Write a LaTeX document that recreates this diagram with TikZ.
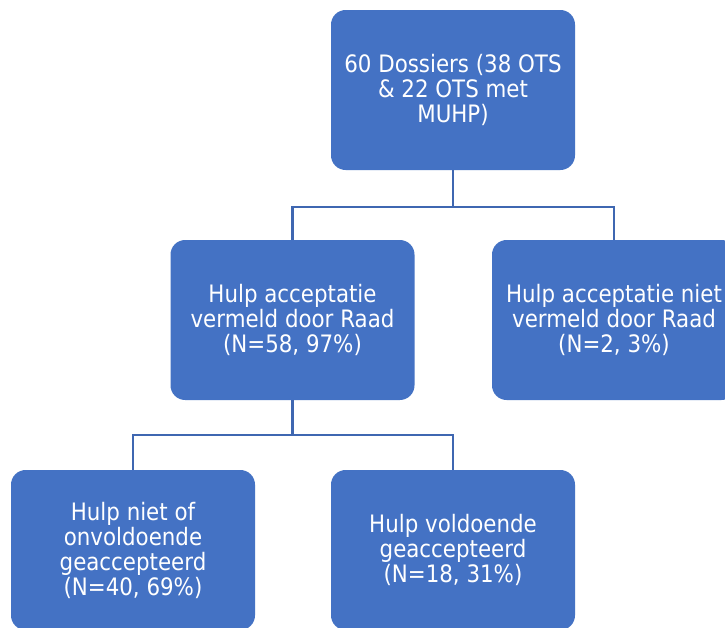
\documentclass[tikz,border=0pt]{standalone}
\usepackage{fontspec}
\setmainfont{DejaVu Sans}[FakeStretch=0.89]
\definecolor{boxblue}{HTML}{4472C4}
\definecolor{lineblue}{HTML}{3F67B1}
\tikzset{
  box/.style={fill=boxblue, draw=none, rounded corners=11pt, minimum width=183pt, minimum height=120pt,
    text=white, align=center, font=\fontsize{18}{18.75}\selectfont, inner sep=0pt},
  link/.style={draw=lineblue, line width=1.9pt}
}
\begin{document}
\begin{tikzpicture}[x=0.75pt,y=-0.75pt]
\useasboundingbox (0,0) rectangle (725,628);
\clip (0,0) rectangle (725,628);
\fill[white] (0,0) rectangle (725,628);
\node[box] (top) at (453,90) {60 Dossiers (38 OTS\\ \& 22 OTS met\\ MUHP)};
\node[box] (ml) at (292.5,320) {Hulp acceptatie\\ vermeld door Raad\\ (N=58, 97\%)};
\node[box] (mr) at (614,320) {Hulp acceptatie niet\\ vermeld door Raad\\ (N=2, 3\%)};
\node[box] (bl) at (133,550) {Hulp niet of\\ onvoldoende\\ geaccepteerd\\ (N=40, 69\%)};
\node[box] (bm) at (453,550) {Hulp voldoende\\ geaccepteerd\\ (N=18, 31\%)};
\coordinate (j1) at (453,207);
\coordinate (j2) at (292.5,435);
\draw[link] (top.south) -- (j1) -| (ml.north);
\draw[link] (j1) -| (mr.north);
\draw[link] (ml.south) -- (j2) -| (bl.north);
\draw[link] (j2) -| (bm.north);
\end{tikzpicture}
\end{document}
